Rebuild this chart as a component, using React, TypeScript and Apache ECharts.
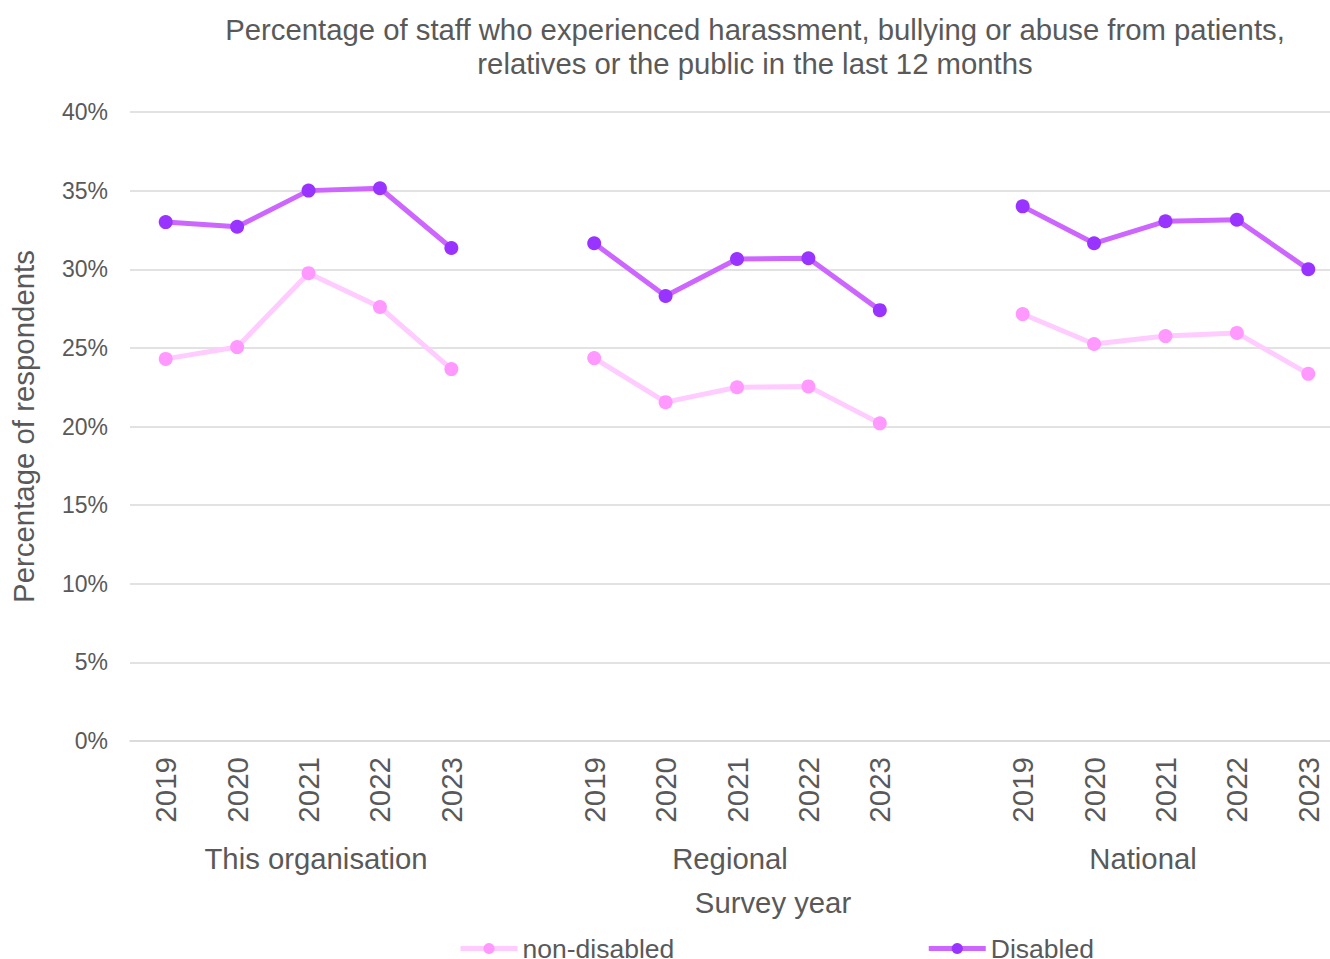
import React, { useEffect, useRef } from "react";
import * as echarts from "echarts";

const years = ["2019", "2020", "2021", "2022", "2023"];
const groups = ["This organisation", "Regional", "National"];
const yTicks = { min: 0, max: 40, interval: 5 };

const disabledOrg = [33.0, 32.7, 35.0, 35.15, 31.35];
const disabledRegional = [31.65, 28.3, 30.65, 30.7, 27.4];
const disabledNational = [34.0, 31.65, 33.05, 33.15, 30.0];

const nonDisabledOrg = [24.3, 25.05, 29.75, 27.6, 23.65];
const nonDisabledRegional = [24.35, 21.55, 22.5, 22.55, 20.2];
const nonDisabledNational = [27.15, 25.25, 25.75, 25.95, 23.35];

const categories: string[] = [...years, "", ...years, "", ...years];
const join = (a: number[], b: number[], c: number[]) => [...a, null, ...b, null, ...c];

const disabledData = join(disabledOrg, disabledRegional, disabledNational);
const nonDisabledData = join(nonDisabledOrg, nonDisabledRegional, nonDisabledNational);

const textColor = "#595959";
const font = "'Liberation Sans', Arial, sans-serif";

export default function App() {
  const ref = useRef<HTMLDivElement>(null);
  useEffect(() => {
    if (!ref.current) return;
    const chart = echarts.init(ref.current, undefined, { renderer: "svg" });
    chart.setOption({
      animation: false,
      textStyle: { fontFamily: font, color: textColor },
      title: {
        text: "Percentage of staff who experienced harassment, bullying or abuse from patients,\nrelatives or the public in the last 12 months",
        left: 750,
        top: 7,
        textAlign: "center",
        textStyle: { fontFamily: font, fontSize: 29.3, lineHeight: 34, fontWeight: "normal", color: textColor },
      },
      grid: { left: 130, right: 0, top: 112, bottom: 218, containLabel: false },
      xAxis: {
        type: "category",
        data: categories,
        boundaryGap: true,
        axisTick: { show: false },
        axisLine: { lineStyle: { color: "#d9d9d9", width: 1.5 } },
        axisLabel: { rotate: 90, margin: 16, fontSize: 29.5, color: textColor, fontFamily: font, interval: 0 },
      },
      yAxis: {
        type: "value",
        min: yTicks.min,
        max: yTicks.max,
        interval: yTicks.interval,
        axisLabel: { formatter: "{value}%", fontSize: 23, color: textColor, fontFamily: font, margin: 22 },
        splitLine: { lineStyle: { color: "#d9d9d9", width: 1.5 } },
        axisLine: { show: false },
        axisTick: { show: false },
        name: "Percentage of respondents",
        nameLocation: "middle",
        nameGap: 92,
        nameTextStyle: { fontSize: 29.4, color: textColor, fontFamily: font },
      },
      legend: {
        left: 458,
        top: 935,
        padding: 0,
        itemGap: 252,
        itemWidth: 57,
        itemHeight: 14,
        lineStyle: { width: 5 },
        textStyle: { fontSize: 26.5, color: textColor, fontFamily: font },
        data: ["non-disabled", "Disabled"],
      },
      graphic: [
        ...groups.map((g, i) => ({
          type: "text",
          x: [316, 730, 1143][i],
          y: 858,
          style: { text: g, fontSize: 29.3, fill: textColor, fontFamily: font, textAlign: "center", textVerticalAlign: "middle" },
        })),
        {
          type: "text",
          x: 773,
          y: 902,
          style: { text: "Survey year", fontSize: 29.3, fill: textColor, fontFamily: font, textAlign: "center", textVerticalAlign: "middle" },
        },
      ],
      series: [
        {
          name: "non-disabled",
          type: "line",
          data: nonDisabledData,
          connectNulls: false,
          symbol: "circle",
          symbolSize: 14,
          lineStyle: { color: "#ffccff", width: 5 },
          itemStyle: { color: "#ff99ff" },
        },
        {
          name: "Disabled",
          type: "line",
          data: disabledData,
          connectNulls: false,
          symbol: "circle",
          symbolSize: 14,
          lineStyle: { color: "#cc66ff", width: 5 },
          itemStyle: { color: "#9933ff" },
        },
      ],
    });
    return () => chart.dispose();
  }, []);
  return (
    <div style={{ position: "absolute", left: 0, top: 0, width: 1330, height: 959, overflow: "hidden" }}>
      <div ref={ref} style={{ position: "absolute", left: 0, top: 0, width: 1344, height: 959 }} />
    </div>
  );
}
